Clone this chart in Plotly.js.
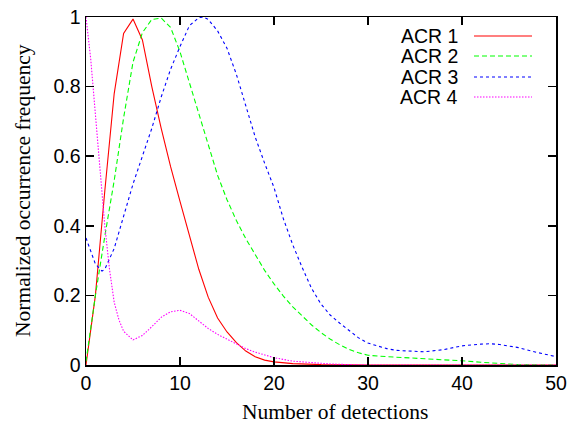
<!DOCTYPE html>
<html>
<head>
<meta charset="utf-8">
<script src="https://cdn.plot.ly/plotly-3.0.1.min.js"></script>
<style>html,body{margin:0;padding:0;background:#fff;}#chart{width:570px;height:425px;}</style>
</head>
<body>
<div id="chart"></div>
<script>
// ACR 1 (red, solid)
var acr1X = [0,1,2,3,4,5,6,7,8,9,10,11,12,13,14,15,16,17,18,19,20,22,25,30,40,50];
var acr1Y = [0,0.2,0.5,0.78,0.953,0.994,0.934,0.80,0.68,0.57,0.47,0.37,0.275,0.195,0.135,0.095,0.064,0.04,0.024,0.014,0.009,0.004,0.001,0,0,0];
// ACR 2 (green, dashed)
var acr2X = [0,1,2,3,4,5,6,7,8,9,10,11,12,13,14,15,16,17,18,19,20,21,22,23,24,25,26,27,28,29,30,32,35,38,40,42,44,46,48,50];
var acr2Y = [0.01,0.2,0.37,0.53,0.71,0.87,0.955,0.993,0.997,0.97,0.9,0.81,0.72,0.63,0.545,0.475,0.415,0.363,0.316,0.272,0.233,0.198,0.167,0.14,0.115,0.093,0.074,0.058,0.045,0.035,0.028,0.024,0.02,0.016,0.012,0.008,0.004,0.001,0,0];
// ACR 3 (blue, short dashes)
var acr3X = [0,1,1.7,2,3,4,5,6,7,8,9,10,11,12,12.5,13,14,15,16,17,18,19,20,21,22,23,24,25,26,27,28,29,30,31,32,33,34,36,38,40,42,43,44,46,48,50];
var acr3Y = [0.365,0.29,0.27,0.275,0.335,0.43,0.52,0.6,0.68,0.77,0.85,0.915,0.975,0.998,1.0,0.993,0.96,0.91,0.835,0.745,0.655,0.58,0.51,0.42,0.345,0.28,0.22,0.175,0.143,0.12,0.098,0.078,0.063,0.054,0.047,0.042,0.04,0.038,0.044,0.055,0.06,0.061,0.059,0.05,0.036,0.024];
// ACR 4 (magenta, dotted)
var acr4X = [0,0.5,1,1.5,2,2.5,3,3.5,4,5,6,7,8,9,10,11,12,13,14,15,16,17,18,19,20,22,24,26,28,30,40,50];
var acr4Y = [1.0,0.88,0.72,0.57,0.4,0.275,0.18,0.13,0.097,0.072,0.085,0.11,0.137,0.153,0.157,0.148,0.127,0.105,0.088,0.074,0.06,0.047,0.037,0.028,0.021,0.011,0.006,0.003,0.001,0,0,0];

var seriesNames = ["ACR 1","ACR 2","ACR 3","ACR 4"];
var xTicks = [0,10,20,30,40,50];
var yTicks = [0,0.2,0.4,0.6,0.8,1];

var colors = ["#ff0000","#00ff00","#0000ff","#ff00ff"];
var dashes = ["solid","5px,3px","3px,3px","1.5px,1.5px"];
var xs = [acr1X,acr2X,acr3X,acr4X];
var ys = [acr1Y,acr2Y,acr3Y,acr4Y];

var traces = xs.map(function(x,i){
  return {x:x, y:ys[i], type:"scatter", mode:"lines", name:seriesNames[i],
    line:{color:colors[i], width:1.1, dash:dashes[i]}, showlegend:false};
});

// manual gnuplot-style legend (text right, sample line to the right)
var legTextX = (460-86)/470, legL = (474-86)/470, legR = (532-86)/470;
var legY = [36,56,77,97].map(function(p){return (365-p)/348;});
var annotations = seriesNames.map(function(n,i){
  return {text:n, xref:"paper", yref:"paper", x:legTextX, y:legY[i], xanchor:"right", yanchor:"middle",
    showarrow:false, font:{family:"Liberation Sans, Arial, sans-serif", size:19.5, color:"#000"}};
});
annotations.push({text:"Number of detections", xref:"paper", yref:"paper", x:(335-86)/470, y:(365-412)/348,
  xanchor:"center", yanchor:"middle", showarrow:false,
  font:{family:"Liberation Serif, Times New Roman, serif", size:21.5, color:"#000"}});
annotations.push({text:"Normalized occurrence frequency", xref:"paper", yref:"paper", x:(23-86)/470, y:0.5,
  xanchor:"center", yanchor:"middle", textangle:-90, showarrow:false,
  font:{family:"Liberation Serif, Times New Roman, serif", size:21.5, color:"#000"}});
var shapes = seriesNames.map(function(n,i){
  return {type:"line", xref:"paper", yref:"paper", x0:legL, x1:legR, y0:legY[i], y1:legY[i],
    line:{color:colors[i], width:1.1, dash:dashes[i]}};
});

var axisCommon = {showline:true, mirror:"ticks", linecolor:"#000", linewidth:1.5,
  ticks:"inside", ticklen:8, tickwidth:1.5, tickcolor:"#000", showgrid:false, zeroline:false,
  tickfont:{family:"Liberation Sans, Arial, sans-serif", size:19.5, color:"#000"}};

var layout = {
  width:570, height:425,
  margin:{l:86, r:14, t:17, b:60},
  paper_bgcolor:"#fff", plot_bgcolor:"#fff",
  xaxis:Object.assign({}, axisCommon, {range:[0,50], tickvals:xTicks, ticktext:xTicks.map(String)}),
  yaxis:Object.assign({}, axisCommon, {range:[0,1], tickvals:yTicks, ticktext:yTicks.map(String)}),
  annotations:annotations,
  shapes:shapes,
  showlegend:false
};

Plotly.newPlot("chart", traces, layout, {staticPlot:true, displayModeBar:false});
</script>
</body>
</html>
